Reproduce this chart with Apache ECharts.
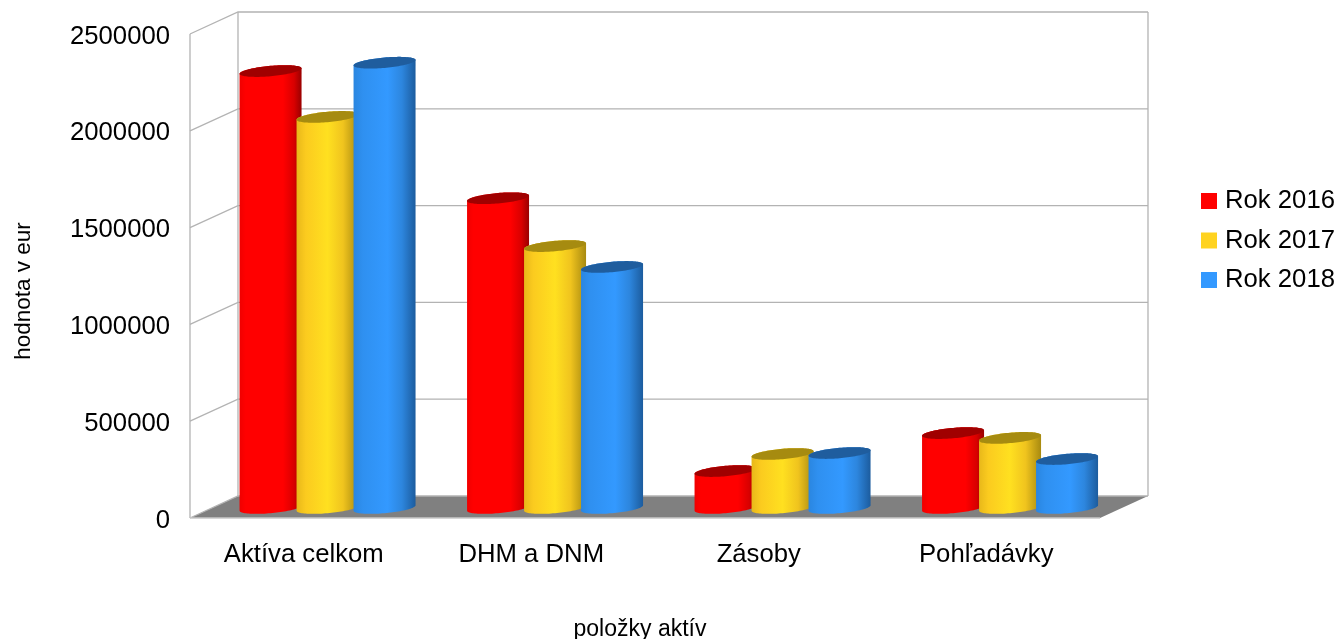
<!DOCTYPE html>
<html>
<head>
<meta charset="utf-8">
<style>html,body{margin:0;padding:0;background:#fff}#c{width:1338px;height:639px}</style>
<script src="https://cdn.jsdelivr.net/npm/echarts@6/dist/echarts.min.js"></script>
</head>
<body>
<div id="c"></div>
<script>
const categories = ['Aktíva celkom', 'DHM a DNM', 'Zásoby', 'Pohľadávky'];
const rok2016 = [2257000, 1600000, 191000, 387000];
const rok2017 = [2020000, 1353000, 279000, 362000];
const rok2018 = [2300000, 1245000, 284000, 253000];
const yTicks = [0, 500000, 1000000, 1500000, 2000000, 2500000];

const DEPTH_X = 48, DEPTH_Y = -22;
const chart = echarts.init(document.getElementById('c'));
const font = '"Liberation Sans", Arial, sans-serif';
const LG = echarts.graphic.LinearGradient;

function wallItem(params, api) {
  const cs = params.coordSys;
  const v = api.value(1);
  const y = api.coord([0, v])[1];
  const x0 = cs.x, x1 = cs.x + cs.width;
  const lineStyle = { stroke: '#b3b3b3', lineWidth: 1.3, fill: null };
  const children = [
    { type: 'polyline', shape: { points: [[x0, y], [x0 + DEPTH_X, y + DEPTH_Y], [x1 + DEPTH_X, y + DEPTH_Y]] }, style: lineStyle }
  ];
  if (v === 0) {
    const top = cs.y;
    children.unshift({ type: 'polygon', shape: { points: [[x0, y], [x0 + DEPTH_X, y + DEPTH_Y], [x1 + DEPTH_X, y + DEPTH_Y], [x1, y]] }, style: { fill: '#808080' } });
    children.push(
      { type: 'line', shape: { x1: x0, y1: top, x2: x0, y2: y }, style: lineStyle },
      { type: 'line', shape: { x1: x0 + DEPTH_X, y1: top + DEPTH_Y, x2: x0 + DEPTH_X, y2: y + DEPTH_Y }, style: lineStyle },
      { type: 'line', shape: { x1: x1 + DEPTH_X, y1: top + DEPTH_Y, x2: x1 + DEPTH_X, y2: y + DEPTH_Y }, style: lineStyle },
      { type: 'line', shape: { x1: x0, y1: y, x2: x1, y2: y }, style: { stroke: '#c8c8c8', lineWidth: 1.3 } }
    );
  }
  return { type: 'group', children };
}

function cylinder(slot, stops, topColor) {
  return function (params, api) {
    const cat = api.value(0), val = api.value(1);
    const base = api.coord([cat, 0]);
    const top = api.coord([cat, val]);
    const cx = base[0] + DEPTH_X / 2 + slot * 57 - 0.2;
    const by = base[1] + DEPTH_Y / 2 + 1;
    const ty = top[1] + DEPTH_Y / 2 + 1;
    const rx = 31, ry = 5.2, s = 2.7, n = 48;
    const pt = (t, yc) => [cx + rx * Math.cos(t), yc + ry * Math.sin(t) - s * Math.cos(t)];
    const bodyPts = [], topPts = [];
    for (let i = 0; i <= n; i++) bodyPts.push(pt(Math.PI * i / n, by));
    for (let i = 0; i <= n; i++) bodyPts.push(pt(Math.PI + Math.PI * i / n, ty));
    for (let i = 0; i < 2 * n; i++) topPts.push(pt(Math.PI * i / n, ty));
    return {
      type: 'group',
      children: [
        { type: 'polygon', shape: { points: bodyPts }, style: { fill: new LG(0, 0, 1, 0, stops) } },
        { type: 'polygon', shape: { points: topPts }, style: { fill: topColor } }
      ]
    };
  };
}

const redStops = [{offset:0,color:'#f00000'},{offset:.1,color:'#ff0000'},{offset:.7,color:'#ff0000'},{offset:.88,color:'#d80000'},{offset:1,color:'#990000'}];
const yellowStops = [{offset:0,color:'#e8b81a'},{offset:.15,color:'#fbcb1f'},{offset:.5,color:'#ffe020'},{offset:.75,color:'#f0c41e'},{offset:1,color:'#a88a10'}];
const blueStops = [{offset:0,color:'#2a86e0'},{offset:.15,color:'#2f90f0'},{offset:.55,color:'#3399ff'},{offset:.78,color:'#2d86de'},{offset:1,color:'#1c5c9e'}];

function barSeries(name, values, slot, color, stops, topColor) {
  return {
    type: 'custom', name,
    data: values.map((v, i) => [i, v]),
    encode: { x: 0, y: 1 },
    itemStyle: { color },
    renderItem: cylinder(slot, stops, topColor),
    clip: false, z: 3, silent: true
  };
}

chart.setOption({
  animation: false,
  backgroundColor: '#fff',
  textStyle: { fontFamily: font },
  grid: { left: 190, right: 238, top: 34, height: 484, outerBoundsMode: 'none' },
  legend: {
    data: ['Rok 2016', 'Rok 2017', 'Rok 2018'],
    orient: 'vertical', left: 1196, top: 183,
    icon: 'rect', itemWidth: 16, itemHeight: 16, itemGap: 13.5, itemStyle: { borderWidth: 0 },
    textStyle: { fontFamily: font, fontSize: 25.7, color: '#000', padding: [3, 0, 0, 3] }
  },
  xAxis: {
    type: 'category', data: categories,
    axisLine: { show: false }, axisTick: { show: false }, splitLine: { show: false },
    axisLabel: { fontFamily: font, fontSize: 25.7, color: '#000', margin: 24 },
    name: 'položky aktív', nameLocation: 'middle', nameGap: 100,
    nameTextStyle: { fontFamily: font, fontSize: 23, color: '#000', padding: [0, 10, 0, 0] }
  },
  yAxis: {
    type: 'value', min: 0, max: 2500000, interval: 500000,
    axisLine: { show: false }, axisTick: { show: false }, splitLine: { show: false },
    axisLabel: {
      fontFamily: font, fontSize: 25.7, color: '#000', margin: 20,
      formatter: v => '{a|' + v + '}',
      rich: { a: { fontFamily: font, fontSize: 25.7, color: '#000', padding: [5, 0, 0, 0] } }
    },
    name: 'hodnota v eur', nameLocation: 'middle', nameGap: 155,
    nameTextStyle: { fontFamily: font, fontSize: 22.5, color: '#000', padding: [0, 30, 0, 0] }
  },
  series: [
    { type: 'custom', name: 'walls', data: yTicks.map(v => [0, v]), encode: { x: 0, y: 1 }, renderItem: wallItem, clip: false, z: 1, silent: true },
    barSeries('Rok 2016', rok2016, -1, '#ff0000', redStops, '#a00000'),
    barSeries('Rok 2017', rok2017, 0, '#ffd320', yellowStops, '#a68b10'),
    barSeries('Rok 2018', rok2018, 1, '#3399ff', blueStops, '#1f5d9e')
  ]
});
</script>
</body>
</html>
